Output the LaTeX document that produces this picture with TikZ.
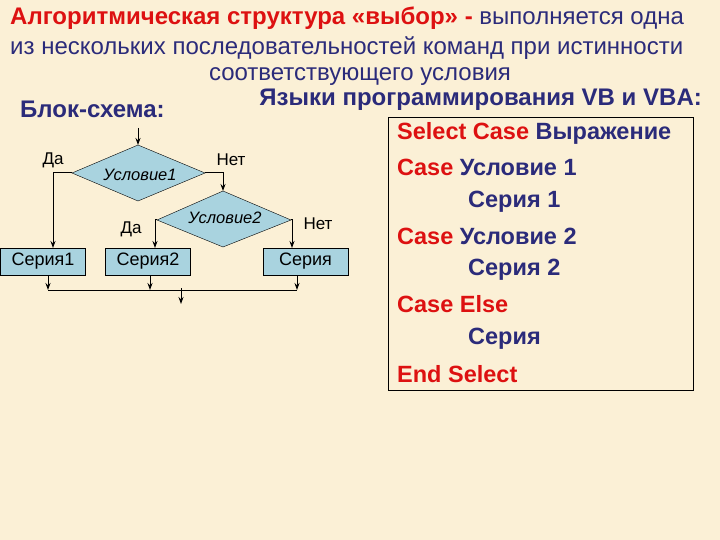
\documentclass[tikz,border=0pt]{standalone}
\usepackage{fontspec}
\setmainfont{Liberation Sans}
\usetikzlibrary{arrows.meta}
\definecolor{bg}{HTML}{FBF0D6}
\definecolor{navy}{HTML}{2B2B7A}
\definecolor{rd}{HTML}{DD1111}
\definecolor{fillb}{HTML}{A9D3DF}
\begin{document}
\begin{tikzpicture}[x=1pt,y=-1pt,
  blk/.style={draw=black,fill=fillb,minimum width=85pt,minimum height=27pt,inner sep=0pt,font=\fontsize{18}{21}\selectfont},
  dia/.style={draw=black,fill=fillb},
  lbl/.style={font=\fontsize{17}{19}\selectfont,inner sep=0pt},
  ln/.style={draw=black,line width=1pt},
  ar/.style={ln,-{Stealth[length=7pt,width=5pt]}},
  hd/.style={inner sep=0pt,font=\fontsize{24}{27}\selectfont},
  code/.style={anchor=west,inner sep=0pt,font=\fontsize{23.5}{27}\selectfont\bfseries}]
\fill[bg] (0,0) rectangle (720,540);
\useasboundingbox (0,0) rectangle (720,540);
% title
\node[hd,anchor=west] (t1) at (10,18) {\textcolor{rd}{\bfseries Алгоритмическая структура «выбор» -} \textcolor{navy}{выполняется одна}};
\node[hd,anchor=west,text=navy] (t2) at (10,48) {из нескольких последовательностей команд при истинности};
\node[hd,text=navy] (t3) at (360,77) {соответствующего условия};
\node[hd,anchor=west,font=\fontsize{24}{27}\selectfont\bfseries,text=navy] (bs) at (20,109) {Блок-схема:};
\node[hd,anchor=east,font=\fontsize{24}{27}\selectfont\bfseries,text=navy] (yz) at (702,100) {Языки программирования VB и VBA:};
% code box
\node[draw=black,fill=bg,line width=0.6pt,minimum width=305pt,minimum height=273pt,inner sep=0pt] (box) at (540.5,253.5) {};
\node[code] (c1) at (397,133) {\textcolor{rd}{Select Case} \textcolor{navy}{Выражение}};
\node[code] (c2) at (397,167) {\textcolor{rd}{Case} \textcolor{navy}{Условие 1}};
\node[code,text=navy] (c3) at (468,202) {Серия 1};
\node[code] (c4) at (397,236) {\textcolor{rd}{Case} \textcolor{navy}{Условие 2}};
\node[code,text=navy] (c5) at (468,270) {Серия 2};
\node[code,text=rd] (c6) at (397,304) {Case Else};
\node[code,text=navy] (c7) at (468,339) {Серия};
\node[code,text=rd] (c8) at (397,374) {End Select};
% flowchart
\coordinate (in) at (138,128);
\draw[dia] (138,145) -- (205,173) -- (138,201) -- (72,173) -- cycle;
\node[lbl,font=\fontsize{16.5}{18}\selectfont\itshape] (d1) at (140,175) {Условие1};
\coordinate (d1t) at (138,145); \coordinate (d1l) at (72,173); \coordinate (d1r) at (205,173);
\draw[dia] (223,191) -- (291,220) -- (223,247) -- (157,220) -- cycle;
\node[lbl,font=\fontsize{16.5}{18}\selectfont\itshape] (d2) at (225,218) {Условие2};
\coordinate (d2t) at (223,191); \coordinate (d2l) at (157,220); \coordinate (d2r) at (291,220);
\node[blk] (s1) at (43,261.5) {Серия1};
\node[blk] (s2) at (148,261.5) {Серия2};
\node[blk] (s3) at (305.5,261.5) {Серия};
\node[lbl] (da1) at (53,160) {Да};
\node[lbl] (n1) at (231,160) {Нет};
\node[lbl] (da2) at (131,229) {Да};
\node[lbl] (n2) at (318,224) {Нет};
\draw[ar] (in) -- (d1t);
\draw[ar] (d1l) -- (53,173) -- (53,248);
\draw[ar] (d1r) -- (223,173) -- (d2t);
\draw[ar] (d2l) -- (155,220) -- (155,248);
\draw[ar] (d2r) -- (292,220) -- (292,248);
\coordinate (j1) at (48,290); \coordinate (j2) at (150,290); \coordinate (j3) at (297,290);
\draw[ar] (48,275) -- (j1);
\draw[ar] (150,275) -- (j2);
\draw[ar] (297,275) -- (j3);
\draw[ln] (j1) -- (j3);
\coordinate (out) at (181,304);
\draw[ar] (181,288) -- (out);
\end{tikzpicture}
\end{document}
